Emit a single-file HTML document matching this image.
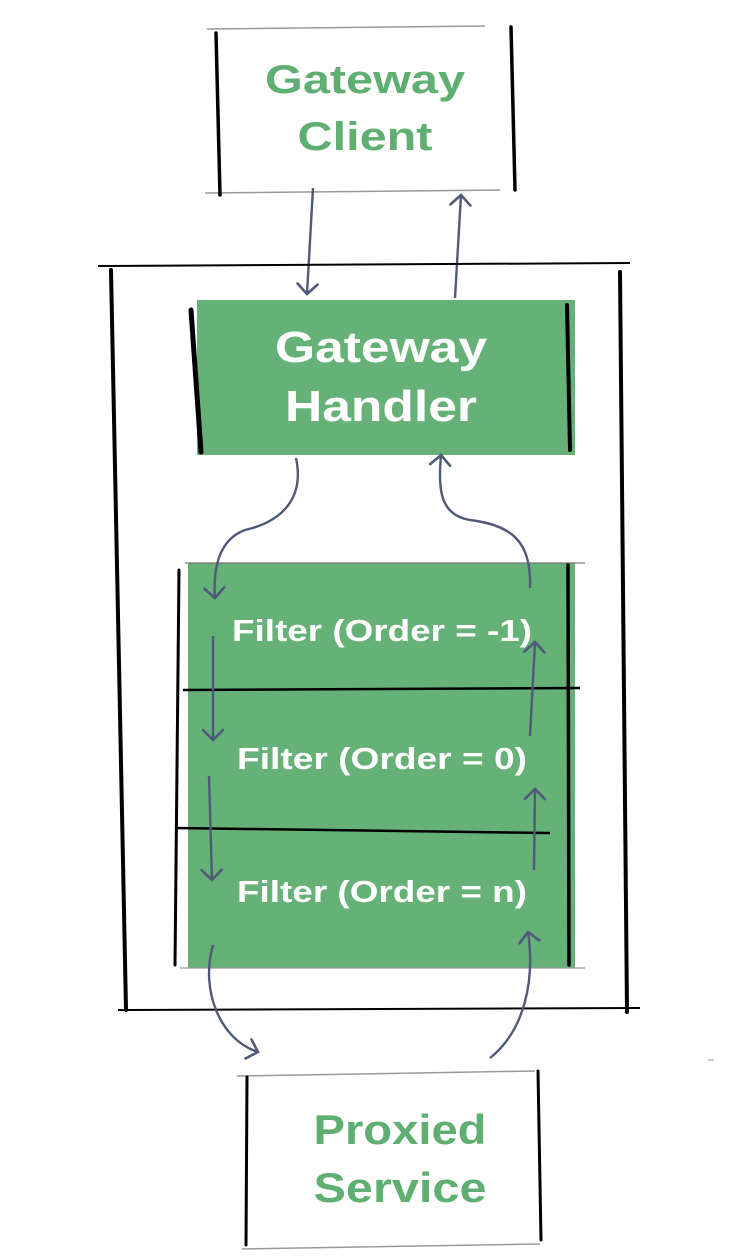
<!DOCTYPE html>
<html><head><meta charset="utf-8"><style>
html,body{margin:0;padding:0;background:#fff;}
svg{display:block;}
text{font-family:"Liberation Sans",sans-serif;font-weight:bold;text-anchor:middle;}
</style></head><body>
<svg width="745" height="1258" viewBox="0 0 745 1258" xmlns="http://www.w3.org/2000/svg">
<defs>
<marker id="ah" viewBox="0 0 24 24" refX="12" refY="12" markerWidth="24" markerHeight="24" markerUnits="userSpaceOnUse" orient="auto">
<path d="M2,2 L12,12 L2,22" fill="none" stroke="#4f5a78" stroke-width="2.6" stroke-linecap="round"/>
</marker>
</defs>
<!-- Gateway Client box -->
<line x1="207" y1="29" x2="485" y2="26" stroke="#999" stroke-width="1.5"/>
<line x1="205" y1="193" x2="500" y2="190" stroke="#999" stroke-width="1.5"/>
<path d="M216,33 L220,195" stroke="#000" stroke-width="3.5" stroke-linecap="round"/>
<path d="M511,27 L515,190" stroke="#000" stroke-width="3.5" stroke-linecap="round"/>
<text x="365" y="93" font-size="40" fill="#5fae72" textLength="200" lengthAdjust="spacingAndGlyphs">Gateway</text>
<text x="365" y="150" font-size="40" fill="#5fae72" textLength="135" lengthAdjust="spacingAndGlyphs">Client</text>
<!-- client arrows -->
<path d="M313,188 L307,294" stroke="#4f5a78" stroke-width="2.4" fill="none" marker-end="url(#ah)"/>
<path d="M455,298 L461,195" stroke="#4f5a78" stroke-width="2.4" fill="none" marker-end="url(#ah)"/>
<!-- outer box -->
<line x1="98" y1="266" x2="630" y2="263" stroke="#000" stroke-width="2"/>
<line x1="118" y1="1010" x2="640" y2="1008" stroke="#000" stroke-width="2"/>
<path d="M111,270 L126,1010" stroke="#000" stroke-width="4" stroke-linecap="round"/>
<path d="M620,272 L627,1012" stroke="#000" stroke-width="4" stroke-linecap="round"/>
<!-- handler -->
<rect x="197" y="300" width="378" height="155" fill="#65b177"/>
<path d="M191,310 L201,452" stroke="#000" stroke-width="5" stroke-linecap="round"/>
<path d="M567,305 L570,450" stroke="#000" stroke-width="4" stroke-linecap="round"/>
<text x="381" y="362" font-size="44" fill="#fff" textLength="212" lengthAdjust="spacingAndGlyphs">Gateway</text>
<text x="381" y="421" font-size="44" fill="#fff" textLength="192" lengthAdjust="spacingAndGlyphs">Handler</text>
<!-- filters -->
<rect x="188" y="563" width="387" height="405" fill="#65b177"/>
<line x1="185" y1="563" x2="585" y2="563" stroke="#777" stroke-width="1.2"/>
<line x1="180" y1="968" x2="585" y2="968" stroke="#999" stroke-width="1.2"/>
<path d="M179,570 L175,965" stroke="#000" stroke-width="3" stroke-linecap="round"/>
<path d="M568,565 L569,965" stroke="#000" stroke-width="3.5" stroke-linecap="round"/>
<path d="M183,690 L580,688" stroke="#000" stroke-width="2.5"/>
<path d="M175,828 L550,833" stroke="#000" stroke-width="2.5"/>
<text x="382" y="641" font-size="31" fill="#fff" textLength="300" lengthAdjust="spacingAndGlyphs">Filter (Order = -1)</text>
<text x="382" y="769" font-size="31" fill="#fff" textLength="290" lengthAdjust="spacingAndGlyphs">Filter (Order = 0)</text>
<text x="382" y="902" font-size="31" fill="#fff" textLength="290" lengthAdjust="spacingAndGlyphs">Filter (Order = n)</text>
<!-- arrows -->
<path d="M296,458 C305,500 280,522 245,530 C218,540 213,570 215,598" stroke="#4f5a78" stroke-width="2.4" fill="none" marker-end="url(#ah)"/>
<path d="M530,588 C532,540 510,525 470,520 C440,515 438,490 441,455" stroke="#4f5a78" stroke-width="2.4" fill="none" marker-end="url(#ah)"/>
<path d="M213,636 L213,740" stroke="#4f5a78" stroke-width="2.4" fill="none" marker-end="url(#ah)"/>
<path d="M209,776 L212,880" stroke="#4f5a78" stroke-width="2.4" fill="none" marker-end="url(#ah)"/>
<path d="M530,736 L535,642" stroke="#4f5a78" stroke-width="2.4" fill="none" marker-end="url(#ah)"/>
<path d="M534,870 L535,789" stroke="#4f5a78" stroke-width="2.4" fill="none" marker-end="url(#ah)"/>
<path d="M213,945 C200,990 220,1040 258,1052" stroke="#4f5a78" stroke-width="2.4" fill="none" marker-end="url(#ah)"/>
<path d="M490,1058 C525,1030 535,980 528,932" stroke="#4f5a78" stroke-width="2.4" fill="none" marker-end="url(#ah)"/>
<!-- proxied -->
<line x1="237" y1="1076" x2="535" y2="1071" stroke="#999" stroke-width="1.5"/>
<line x1="242" y1="1249" x2="540" y2="1244" stroke="#999" stroke-width="1.5"/>
<path d="M247,1077 L246,1245" stroke="#000" stroke-width="3" stroke-linecap="round"/>
<path d="M538,1071 L541,1240" stroke="#000" stroke-width="3" stroke-linecap="round"/>
<text x="400" y="1144" font-size="42" fill="#5fae72" textLength="173" lengthAdjust="spacingAndGlyphs">Proxied</text>
<text x="400" y="1202" font-size="42" fill="#5fae72" textLength="173" lengthAdjust="spacingAndGlyphs">Service</text>
<line x1="708" y1="1060" x2="714" y2="1060" stroke="#999" stroke-width="1"/>
</svg>
</body></html>
